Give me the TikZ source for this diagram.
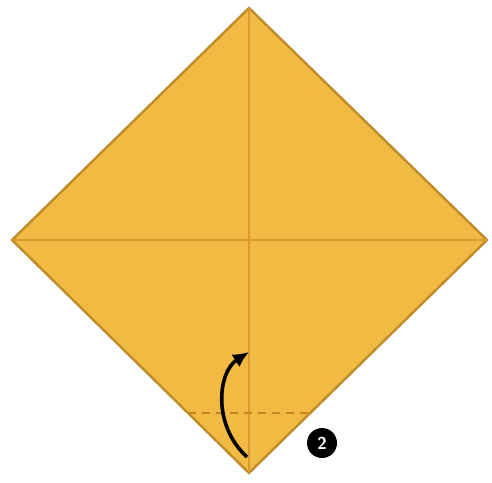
\documentclass[tikz,border=0pt]{standalone}
\usetikzlibrary{arrows.meta}
\definecolor{paper}{RGB}{241,186,66}
\definecolor{edge}{RGB}{190,140,42}
\definecolor{crease}{RGB}{220,154,44}
\definecolor{dashc}{RGB}{196,132,38}
\tikzset{
  sheet/.style={fill=paper, draw=edge, line width=2.4pt, line join=miter},
  creaseline/.style={draw=crease, line width=1.6pt},
  valley/.style={draw=dashc, line width=2.6pt, dash pattern=on 8pt off 6pt},
  foldarrow/.style={draw=black, line width=3.6pt, -{Latex[length=16pt,width=15pt]}},
  stepnum/.style={circle, fill=black, text=white, inner sep=0pt, minimum size=30pt, font=\sffamily\bfseries\LARGE}
}
\begin{document}
\begin{tikzpicture}[x=1pt,y=-1pt]
\useasboundingbox (0,0) rectangle (492,482);
\coordinate (T) at (249,8);
\coordinate (L) at (12,240);
\coordinate (R) at (487,240);
\coordinate (B) at (249,473);
\draw[sheet] (T) -- (R) -- (B) -- (L) -- cycle;
\draw[creaseline] (T) -- (B);
\draw[creaseline] (L) -- (R);
\coordinate (dl) at (188,413);
\coordinate (dr) at (308,413);
\draw[valley] (dl) -- (dr);
\coordinate (as) at (247,457);
\coordinate (ae) at (249,352);
\draw[foldarrow] (as) .. controls (212,425) and (218,372) .. (ae);
\node[stepnum] (n2) at (322,443) {2};
\end{tikzpicture}
\end{document}
